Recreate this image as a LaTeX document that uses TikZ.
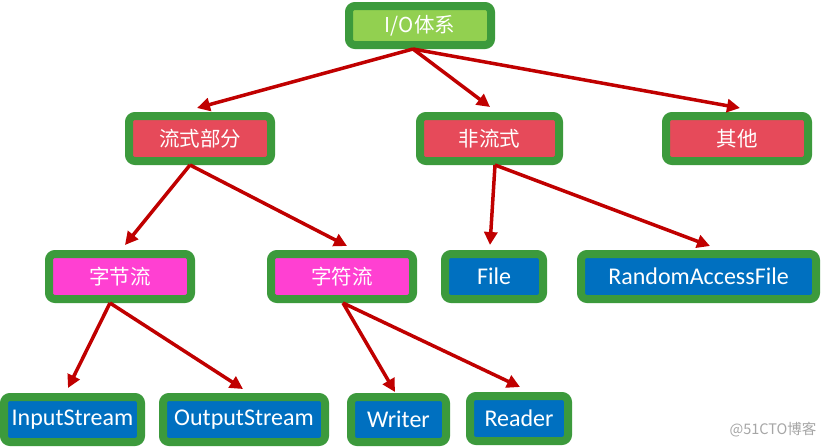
\documentclass[tikz,border=0pt]{standalone}
\usepackage{fontspec}
\setmainfont{Carlito}
\newfontfamily\cjk{Noto Sans CJK SC}
\usetikzlibrary{arrows.meta}
\definecolor{bgreen}{HTML}{3C9A3C}
\definecolor{topgreen}{HTML}{92D050}
\definecolor{boxred}{HTML}{E64A5A}
\definecolor{boxpink}{HTML}{FF40D2}
\definecolor{boxblue}{HTML}{0070C0}
\definecolor{arrred}{HTML}{C00000}
\tikzset{
  box/.style={draw=bgreen, line width=8pt, rounded corners=6pt, text=white,
    inner sep=0pt, minimum height=45pt},
  cnbox/.style={box, font=\cjk\fontsize{20.5}{24}\selectfont},
  enbox/.style={box, fill=boxblue, font=\fontsize{24}{28}\selectfont},
  arr/.style={draw=arrred, line width=3.5pt, -{Triangle[length=13pt,width=13pt]}},
}
\begin{document}
\begin{tikzpicture}[x=1pt,y=-1pt]
\useasboundingbox[fill=white] (0,0) rectangle (829,447);
% level 0
\node[cnbox, fill=topgreen, minimum width=142pt, minimum height=39pt] (io) at (420,25.5) {I/O体系};
% level 1
\node[cnbox, fill=boxred, minimum width=142pt] (liu) at (200,138.5) {流式部分};
\node[cnbox, fill=boxred, minimum width=139pt] (fei) at (489.5,138.5) {非流式};
\node[cnbox, fill=boxred, minimum width=142pt] (qt) at (737,138.5) {其他};
% level 2
\node[cnbox, fill=boxpink, minimum width=142pt] (zj) at (120,276.5) {字节流};
\node[cnbox, fill=boxpink, minimum width=142pt] (zf) at (342,276.5) {字符流};
\node[enbox, minimum width=98pt] (file) at (494,276.5) {File};
\node[enbox, minimum width=235pt] (raf) at (698.5,276.5) {RandomAccessFile};
% level 3
\node[enbox, minimum width=137pt] (in) at (72.5,419.5) {InputStream};
\node[enbox, minimum width=162pt] (out) at (244,419.5) {OutputStream};
\node[enbox, minimum width=95pt] (wr) at (398.5,419.5) {Writer};
\node[enbox, minimum width=98pt] (rd) at (519,418.5) {Reader};
% arrows
\draw[arr] ([xshift=-7pt]io.south) -- ([xshift=-3pt,yshift=4pt]liu.north);
\draw[arr] ([xshift=-7pt]io.south) -- ([xshift=0.5pt,yshift=5pt]fei.north);
\draw[arr] ([xshift=-7pt]io.south) -- ([xshift=3pt,yshift=4pt]qt.north);
\draw[arr] ([xshift=-10pt]liu.south) -- ([xshift=5pt,yshift=5pt]zj.north);
\draw[arr] ([xshift=-10pt]liu.south) -- ([xshift=5pt,yshift=4pt]zf.north);
\draw[arr] ([xshift=5.5pt]fei.south) -- ([xshift=-4pt,yshift=5pt]file.north);
\draw[arr] ([xshift=5.5pt]fei.south) -- ([xshift=11.5pt,yshift=4pt]raf.north);
\draw[arr] ([xshift=-10pt]zj.south) -- ([xshift=-4.5pt,yshift=5pt]in.north);
\draw[arr] ([xshift=-10pt]zj.south) -- ([xshift=-1pt,yshift=4pt]out.north);
\draw[arr] ([xshift=1pt]zf.south) -- ([xshift=-3.5pt,yshift=1pt]wr.north);
\draw[arr] ([xshift=1pt]zf.south) -- ([xshift=1pt,yshift=5pt]rd.north);
% watermark
\node[font=\cjk\fontsize{14.5}{17}\selectfont, text=gray!70, anchor=east] (wm) at (820,430) {@51CTO博客};
\end{tikzpicture}
\end{document}
